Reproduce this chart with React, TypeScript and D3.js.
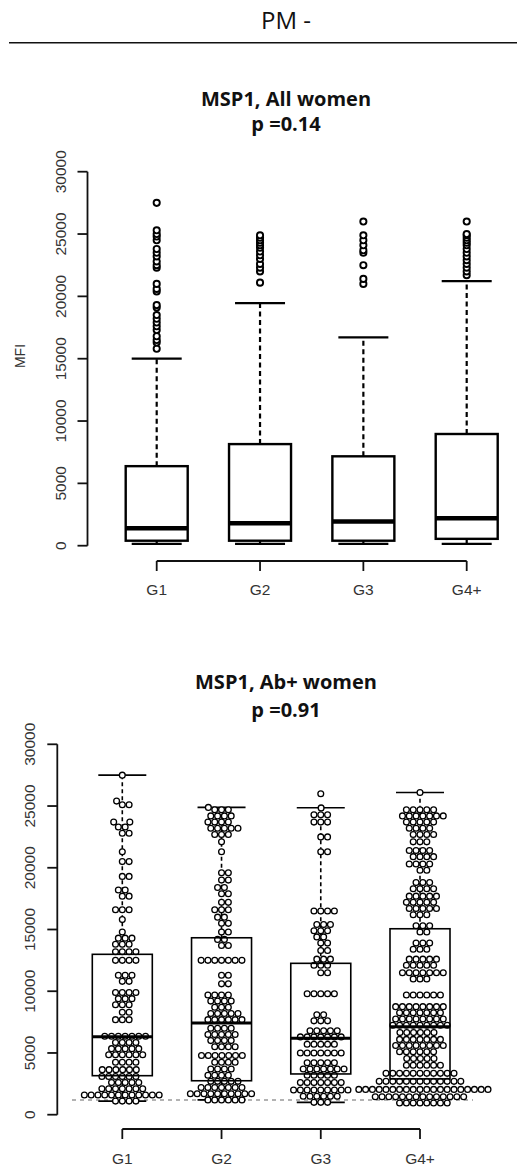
import React from 'react';
import * as d3 from 'd3';

const groups = ['G1', 'G2', 'G3', 'G4+'];

// top panel: MSP1, all women (boxplot summary + outliers)
const allLow = [150, 150, 150, 150];
const allQ1 = [400, 400, 400, 550];
const allMedian = [1400, 1800, 1950, 2200];
const allQ3 = [6380, 8150, 7170, 8960];
const allHigh = [15000, 19460, 16710, 21230];
const allOutG1 = [15800, 16300, 16500, 16800, 17300, 17600, 17900, 18200, 18500, 19100, 19300, 20400, 20600, 21000, 22300, 22500, 22800, 23200, 23500, 23800, 24500, 24800, 25000, 25300, 27500];
const allOutG2 = [21100, 22000, 22300, 22600, 23000, 23300, 23600, 23900, 24100, 24300, 24500, 24700, 24900];
const allOutG3 = [21000, 21400, 22500, 23500, 23700, 24100, 24500, 24900, 26000];
const allOutG4 = [21700, 22000, 22300, 22600, 22900, 23200, 23500, 23800, 24100, 24300, 24500, 24700, 24900, 25000, 26000];

// bottom panel: MSP1, Ab+ women (boxplot summary + all points)
const abLow = [1100, 1200, 1000, 950];
const abQ1 = [3160, 2750, 3300, 2900];
const abMedian = [6320, 7430, 6190, 7130];
const abQ3 = [12990, 14330, 12260, 15060];
const abHigh = [27500, 24890, 24860, 26100];
const abCutoff = 1190;

const abG1 = [
  27500,
  25400, 25100, 25100,
  23700, 23700, 23300, 23300, 22800, 22800,
  21300, 20500, 20500,
  19300, 19300,
  18200, 18200, 17700, 17700,
  16600, 16600, 16600, 15800,
  14800, 14300, 14300, 14300, 13800, 13800, 13800,
  13200, 13200, 13200, 13200, 12500, 12500, 12500, 12500,
  11300, 11300, 11300, 10800, 10800,
  9900, 9900, 9900, 9900, 9400, 9400, 9400, 8900, 8900, 8900,
  8300, 8300, 7700, 7700, 7700,
  6350, 6350, 6350, 6350, 6350, 6350, 6350, 5850, 5850, 5850, 5850,
  5350, 5350, 5350, 5350, 5350, 4850, 4850, 4850, 4850, 4850, 4850,
  4250, 4250, 4250, 4250, 3650, 3650, 3650, 3650, 3650, 3650,
  3100, 3100, 3100, 3100, 3100, 3100, 2600, 2600, 2600, 2600, 2600,
  2100, 2100, 2100, 2100, 2100, 2100, 2100,
  1600, 1600, 1600, 1600, 1600, 1600, 1600, 1600, 1600, 1600, 1600, 1600,
  1100, 1100, 1100, 1100,
];

const abG2 = [
  24890,
  24700, 24700, 24700, 24200, 24200, 24200, 24200, 23700, 23700, 23700, 23700,
  23200, 23200, 23200, 23200, 23200, 22700, 22700, 22700,
  22100, 21300,
  19600, 19600, 19000, 19000, 18400, 18400, 17900, 17900,
  17200, 17200, 16600, 16600, 16600, 16000, 16000, 15500, 15500,
  14800, 14800, 14200, 14200, 13700, 13700,
  12500, 12500, 12500, 12500, 12500, 12500, 12500,
  11300, 11300, 10600, 10600,
  9700, 9700, 9700, 9700, 9200, 9200, 9200, 9200, 8700, 8700, 8700,
  8200, 8200, 8200, 8200, 8200, 7700, 7700, 7700, 7700, 7700, 7700,
  7000, 7000, 7000, 7000, 6500, 6500, 6500, 6500, 6500, 6000, 6000, 6000, 6000,
  5500, 5500, 5500, 5500, 4800, 4800, 4800, 4800, 4800, 4800, 4800,
  4250, 4250, 4250, 4250, 3700, 3700, 3700, 3700, 3200, 3200, 3200, 3200,
  2700, 2700, 2700, 2700, 2700, 2200, 2200, 2200, 2200, 2200, 2200, 2200,
  1700, 1700, 1700, 1700, 1700, 1700, 1700, 1700, 1700, 1700,
  1200, 1200, 1200, 1200, 1200, 1200,
];

const abG3 = [
  26000, 24850,
  24300, 24300, 24300, 23700, 23700, 23700, 22500, 22500, 21300, 21300,
  16500, 16500, 16500, 16500, 15400, 15400, 15400, 14900, 14900, 14900, 14400, 14400,
  13900, 13900, 13300, 13300,
  12600, 12600, 12600, 12100, 12100, 12100, 11500, 11500,
  9800, 9800, 9800, 9800, 9800,
  8100, 8100, 7600, 7600, 7600,
  6800, 6800, 6800, 6800, 6800, 6300, 6300, 6300, 6300, 6300, 6300, 6300,
  5700, 5700, 5700, 5700, 5700, 5000, 5000, 5000, 5000, 5000, 5000, 5000,
  4200, 4200, 4200, 4200, 4200, 3700, 3700, 3700, 3700, 3700, 3700, 3700,
  3200, 3200, 3200, 3200, 3200,
  2600, 2600, 2600, 2600, 2600, 2600, 2600,
  2000, 2000, 2000, 2000, 2000, 2000, 2000, 2000, 2000,
  1500, 1500, 1500, 1500, 1500, 1500,
  1000, 1000, 1000,
];

const abG4 = [
  26100,
  24700, 24700, 24700, 24700, 24700, 24200, 24200, 24200, 24200, 24200, 24200, 24200,
  23700, 23700, 23700, 23700, 23700,
  23200, 23200, 23200, 23200, 22700, 22700, 22700, 22700, 22100, 22100, 22100,
  21400, 21400, 21400, 21400, 20900, 20900, 20900, 20900, 20300, 20300, 20300, 20300, 19800, 19800,
  18800, 18800, 18800, 18300, 18300, 18300, 18300, 17700, 17700, 17700, 17700, 17700,
  17200, 17200, 17200, 17200, 17200, 16700, 16700, 16700, 16700, 16700, 16200, 16200, 16200,
  15300, 15300, 15300, 14800, 14800,
  13900, 13900, 13900, 13400, 13400, 13400,
  12600, 12600, 12600, 12600, 12600, 12100, 12100, 12100, 12100, 12100,
  11500, 11500, 11500, 11500, 11500, 11500, 11500, 11000, 11000, 11000,
  9700, 9700, 9700, 9700, 9700, 9700,
  8750, 8750, 8750, 8750, 8750, 8750, 8750, 8750,
  8250, 8250, 8250, 8250, 8250, 8250, 8250,
  7750, 7750, 7750, 7750, 7750, 7750, 7750, 7750,
  7250, 7250, 7250, 7250, 7250, 7250, 7250, 7250, 7250,
  6650, 6650, 6650, 6650, 6650, 6650, 6100, 6100, 6100, 6100, 6100, 6100, 6100,
  5600, 5600, 5600, 5600, 5600, 5600, 5600, 5600, 5100, 5100, 5100, 5100, 5100, 5100,
  4550, 4550, 4550, 4550, 4550, 4000, 4000, 4000, 4000, 4000, 4000,
  3350, 3350, 3350, 3350, 3350, 3350, 3350, 3350, 3350, 3350, 3350,
  2700, 2700, 2700, 2700, 2700, 2700, 2700, 2700, 2700, 2700, 2700, 2700, 2700,
  2050, 2050, 2050, 2050, 2050, 2050, 2050, 2050, 2050, 2050,
  2050, 2050, 2050, 2050, 2050, 2050, 2050, 2050, 2050, 2050,
  1450, 1450, 1450, 1450, 1450, 1450, 1450, 1450, 1450, 1450, 1450, 1450, 1450, 1450,
  950, 950, 950, 950, 950, 950, 950, 950,
];

const allOutliers = [allOutG1, allOutG2, allOutG3, allOutG4];
const abPoints = [abG1, abG2, abG3, abG4];

const yTicks = [0, 5000, 10000, 15000, 20000, 25000, 30000];

const tickFont = '"Liberation Sans", Arial, sans-serif';
const titleFont = '"Open Sans", sans-serif';

// swarm placement (ascending priority), like beeswarm's "swarm" method
const swarm = (values, y, d) => {
  const sorted = values.map(v => ({ v, y: y(v) })).sort((a, b) => a.v - b.v);
  const placed = [];
  sorted.forEach(p => {
    const near = placed.filter(q => Math.abs(q.y - p.y) < d);
    const cands = [0];
    near.forEach(q => {
      const dx = Math.sqrt(d * d - (q.y - p.y) ** 2);
      cands.push(q.x + dx, q.x - dx);
    });
    cands.sort((a, b) => Math.abs(a) - Math.abs(b));
    let x = 0;
    for (const c of cands) {
      if (near.every(q => (q.x - c) ** 2 + (q.y - p.y) ** 2 >= d * d - 0.01)) { x = c; break; }
    }
    placed.push({ ...p, x });
  });
  return placed;
};

const YAxis = ({ y, x, labelX }) => (
  <g>
    <line x1={x} x2={x} y1={y(30000)} y2={y(0)} stroke="#111" strokeWidth={1.8} />
    {yTicks.map(t => (
      <g key={t}>
        <line x1={x - 10} x2={x} y1={y(t)} y2={y(t)} stroke="#111" strokeWidth={1.8} />
        <text transform={`translate(${labelX},${y(t)}) rotate(-90)`} textAnchor="middle"
          fontFamily={tickFont} fontSize={15.5} fill="#333">{t}</text>
      </g>
    ))}
  </g>
);

const XAxis = ({ xs, y, labelY }) => (
  <g>
    <line x1={xs(groups[0])} x2={xs(groups[groups.length - 1])} y1={y} y2={y} stroke="#111" strokeWidth={1.8} />
    {groups.map(g => (
      <g key={g}>
        <line x1={xs(g)} x2={xs(g)} y1={y} y2={y + 10} stroke="#111" strokeWidth={1.8} />
        <text x={xs(g)} y={labelY} textAnchor="middle" fontFamily={tickFont} fontSize={15.5} fill="#333">{g}</text>
      </g>
    ))}
  </g>
);

const Whiskers = ({ cx, y, i, low, q1, q3, high, capW, lw, dash }) => (
  <g fill="none" stroke="#000">
    <line x1={cx} x2={cx} y1={y(q3[i])} y2={y(high[i])} strokeWidth={lw} strokeDasharray={dash} />
    <line x1={cx} x2={cx} y1={y(q1[i])} y2={y(low[i])} strokeWidth={lw} strokeDasharray={dash} />
    <line x1={cx - capW / 2} x2={cx + capW / 2} y1={y(high[i])} y2={y(high[i])} strokeWidth={lw} />
    <line x1={cx - capW / 2} x2={cx + capW / 2} y1={y(low[i])} y2={y(low[i])} strokeWidth={lw} />
  </g>
);

const BoxBody = ({ cx, y, i, q1, med, q3, boxW, lw, medW, fill }) => (
  <g stroke="#000">
    <rect x={cx - boxW / 2} y={y(q3[i])} width={boxW} height={y(q1[i]) - y(q3[i])} strokeWidth={lw} fill={fill} />
    <line x1={cx - boxW / 2} x2={cx + boxW / 2} y1={y(med[i])} y2={y(med[i])} strokeWidth={medW} />
  </g>
);

export default function App() {
  const W = 517, H = 1173;

  const yTop = d3.scaleLinear().domain([0, 30000]).range([545.7, 171.7]);
  const xTop = d3.scalePoint().domain(groups).range([156.7, 466.7]);

  const yBot = d3.scaleLinear().domain([0, 30000]).range([1114.7, 744.3]);
  const xBot = d3.scalePoint().domain(groups).range([122.3, 420]);

  const swarms = abPoints.map(vals => swarm(vals, yBot, 6.8));

  return (
    <svg width={W} height={H} style={{ position: 'absolute', left: 0, top: 0, background: '#fff' }}>
      <rect width={W} height={H} fill="#fff" />
      <text x={286} y={29} textAnchor="middle" fontFamily={titleFont} fontSize={24} fill="#111">PM -</text>
      <line x1={9} x2={W} y1={42.7} y2={42.7} stroke="#111" strokeWidth={1.5} />

      {/* top panel */}
      <text x={286} y={106} textAnchor="middle" fontFamily={titleFont} fontWeight="bold" fontSize={20} fill="#111">MSP1, All women</text>
      <text x={286} y={131} textAnchor="middle" fontFamily={titleFont} fontWeight="bold" fontSize={20} fill="#111">p =0.14</text>
      <text transform="translate(25,356) rotate(-90)" textAnchor="middle" fontFamily={tickFont} fontSize={14} fill="#333">MFI</text>
      <YAxis y={yTop} x={87.5} labelX={66} />
      <XAxis xs={xTop} y={561} labelY={595} />
      {groups.map((g, i) => (
        <g key={g}>
          <Whiskers cx={xTop(g)} y={yTop} i={i} low={allLow} q1={allQ1} q3={allQ3} high={allHigh} capW={50} lw={2.2} dash="5,3.5" />
          <BoxBody cx={xTop(g)} y={yTop} i={i} q1={allQ1} med={allMedian} q3={allQ3} boxW={62} lw={2.4} medW={4.5} fill="#fff" />
          {allOutliers[i].map((v, k) => (
            <circle key={k} cx={xTop(g)} cy={yTop(v)} r={3.1} fill="#fff" stroke="#000" strokeWidth={1.9} />
          ))}
        </g>
      ))}

      {/* bottom panel */}
      <text x={286} y={689} textAnchor="middle" fontFamily={titleFont} fontWeight="bold" fontSize={20} fill="#111">MSP1, Ab+ women</text>
      <text x={286} y={717} textAnchor="middle" fontFamily={titleFont} fontWeight="bold" fontSize={20} fill="#111">p =0.91</text>
      <YAxis y={yBot} x={57.3} labelX={35} />
      <XAxis xs={xBot} y={1129} labelY={1164} />
      <line x1={72} x2={473} y1={yBot(abCutoff)} y2={yBot(abCutoff)} stroke="#999" strokeWidth={1.6} strokeDasharray="4,4" />
      {groups.map((g, i) => (
        <g key={g}>
          <Whiskers cx={xBot(g)} y={yBot} i={i} low={abLow} q1={abQ1} q3={abQ3} high={abHigh} capW={48} lw={1.6} dash="4,3" />
          {swarms[i].map((p, k) => (
            <circle key={k} cx={xBot(g) + p.x} cy={p.y} r={2.9} fill="#fff" stroke="#000" strokeWidth={1.3} />
          ))}
          <BoxBody cx={xBot(g)} y={yBot} i={i} q1={abQ1} med={abMedian} q3={abQ3} boxW={60} lw={1.6} medW={3} fill="none" />
        </g>
      ))}
    </svg>
  );
}
